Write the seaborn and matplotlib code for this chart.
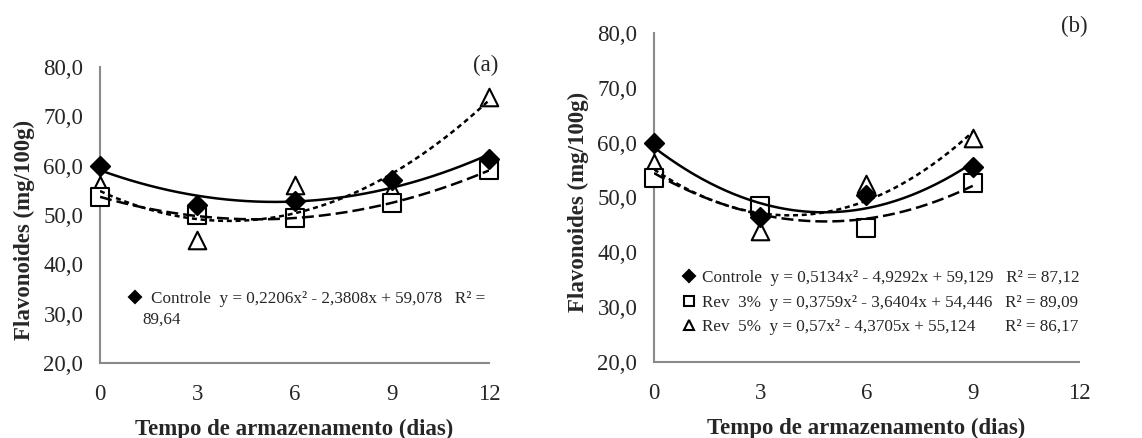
import numpy as np
import pandas as pd
import matplotlib.pyplot as plt
import seaborn as sns
from matplotlib.lines import Line2D

# Storage days
days_a = [0, 3, 6, 9, 12]
days_b = [0, 3, 6, 9]
treatments = ['Controle', 'Rev 3%', 'Rev 5%']

# Panel (a) - flavonoids (mg/100g)
a_controle = [60.0, 52.0, 52.8, 57.1, 61.4]
a_rev3 = [53.6, 50.0, 49.3, 52.4, 59.1]
a_rev5 = [56.0, 45.0, 56.0, 55.0, 74.0]

# Panel (b) - flavonoids (mg/100g)
b_controle = [60.0, 46.5, 50.5, 55.5]
b_rev3 = [53.5, 48.5, 44.4, 52.6]
b_rev5 = [56.3, 43.8, 52.5, 60.8]

# Quadratic trend line coefficients (x^2, x, const)
a_coef_controle = [0.2206, -2.3808, 59.078]
a_coef_rev3 = [0.1937, -1.878, 53.68]
a_coef_rev5 = [0.381, -3.039, 54.86]
b_coef_controle = [0.5134, -4.9292, 59.129]
b_coef_rev3 = [0.3759, -3.6404, 54.446]
b_coef_rev5 = [0.57, -4.3705, 55.124]

# Legend texts
a_label = 'Controle  y = 0,2206x² - 2,3808x + 59,078   R² ='
a_label_wrap = '89,64'
b_labels = ['Controle  y = 0,5134x² - 4,9292x + 59,129   R² = 87,12',
            'Rev  3%  y = 0,3759x² - 3,6404x + 54,446   R² = 89,09',
            'Rev  5%  y = 0,57x² - 4,3705x + 55,124       R² = 86,17']

sns.set_style('white')
plt.rcParams['font.family'] = ['Liberation Serif', 'DejaVu Serif']

markers = {'Controle': 'D', 'Rev 3%': 's', 'Rev 5%': '^'}
faces = {'Controle': 'black', 'Rev 3%': 'white', 'Rev 5%': 'white'}
styles = {'Controle': '-', 'Rev 3%': (0, (4.8, 2.0)), 'Rev 5%': (0, (2.0, 1.5))}
sizes = {'Controle': 95, 'Rev 3%': 175, 'Rev 5%': 160}
leg_sizes = {'Controle': 5.8, 'Rev 3%': 6.5, 'Rev 5%': 7.0}

fig = plt.figure(figsize=(11.42, 4.38), dpi=100)
ax_a = fig.add_axes([0.0876, 0.1712, 0.3406, 0.6758])
ax_b = fig.add_axes([0.5727, 0.1735, 0.3721, 0.7512])

panels = [
    (ax_a, days_a, [a_controle, a_rev3, a_rev5],
     [a_coef_controle, a_coef_rev3, a_coef_rev5], 0.451),
    (ax_b, days_b, [b_controle, b_rev3, b_rev5],
     [b_coef_controle, b_coef_rev3, b_coef_rev5], 0.487),
]

for ax, days, values, coefs, label_y in panels:
    pts = pd.DataFrame({
        'dia': np.tile(days, 3),
        'valor': np.concatenate(values),
        'trat': np.repeat(treatments, len(days)),
    })
    # markers (Controle drawn last, on top)
    for t in ['Rev 5%', 'Rev 3%', 'Controle']:
        sub = pts[pts['trat'] == t]
        sns.scatterplot(data=sub, x='dia', y='valor', marker=markers[t],
                        s=sizes[t], color=faces[t], edgecolor='black',
                        linewidth=1.5, ax=ax, legend=False, zorder=3, clip_on=False)
    # trend lines
    xs = np.linspace(days[0], days[-1], 200)
    for t, c in zip(treatments, coefs):
        sns.lineplot(x=xs, y=np.polyval(c, xs), color='black', lw=1.8,
                     linestyle=styles[t], ax=ax, zorder=4)

    ax.set_xlim(0, 12)
    ax.set_ylim(20, 80)
    ax.set_xticks([0, 3, 6, 9, 12])
    ax.set_yticks(np.arange(20, 81, 10))
    ax.set_yticklabels([f'{v:.1f}'.replace('.', ',') for v in np.arange(20, 81, 10)])
    ax.tick_params(axis='both', length=0, labelsize=16.5)
    ax.tick_params(axis='x', pad=15)
    ax.tick_params(axis='y', pad=12)
    for s in ['top', 'right']:
        ax.spines[s].set_visible(False)
    for s in ['left', 'bottom']:
        ax.spines[s].set_color('#8a8a8a')
        ax.spines[s].set_linewidth(1.5)
    ax.set_xlabel('Tempo de armazenamento (dias)', fontsize=16.5, fontweight='bold', labelpad=10)
    ax.set_ylabel('Flavonoides (mg/100g)', fontsize=16.5, fontweight='bold', labelpad=6)
    ax.yaxis.label.set_y(label_y)

fig.text(0.436, 0.851, '(a)', fontsize=16.5, ha='right', va='center')
fig.text(0.952, 0.940, '(b)', fontsize=16.5, ha='right', va='center')

def handle(t):
    return Line2D([], [], marker=markers[t], markersize=leg_sizes[t], linestyle='none',
                  markerfacecolor=faces[t], markeredgecolor='black', markeredgewidth=1.5)

ax_a.legend([handle('Controle')], [a_label], loc='upper left', bbox_to_anchor=(0.05, 0.268),
            frameon=False, fontsize=12.3, handletextpad=0.45, borderaxespad=0, handlelength=1)
ax_a.text(0.108, 0.146, a_label_wrap, transform=ax_a.transAxes, fontsize=12.3,
          ha='left', va='center')
ax_b.legend([handle(t) for t in treatments], b_labels, loc='upper left',
            bbox_to_anchor=(0.045, 0.30), frameon=False, fontsize=12.3,
            handletextpad=0.3, borderaxespad=0, handlelength=1, labelspacing=0.5)

plt.savefig('out.png', dpi=100)
